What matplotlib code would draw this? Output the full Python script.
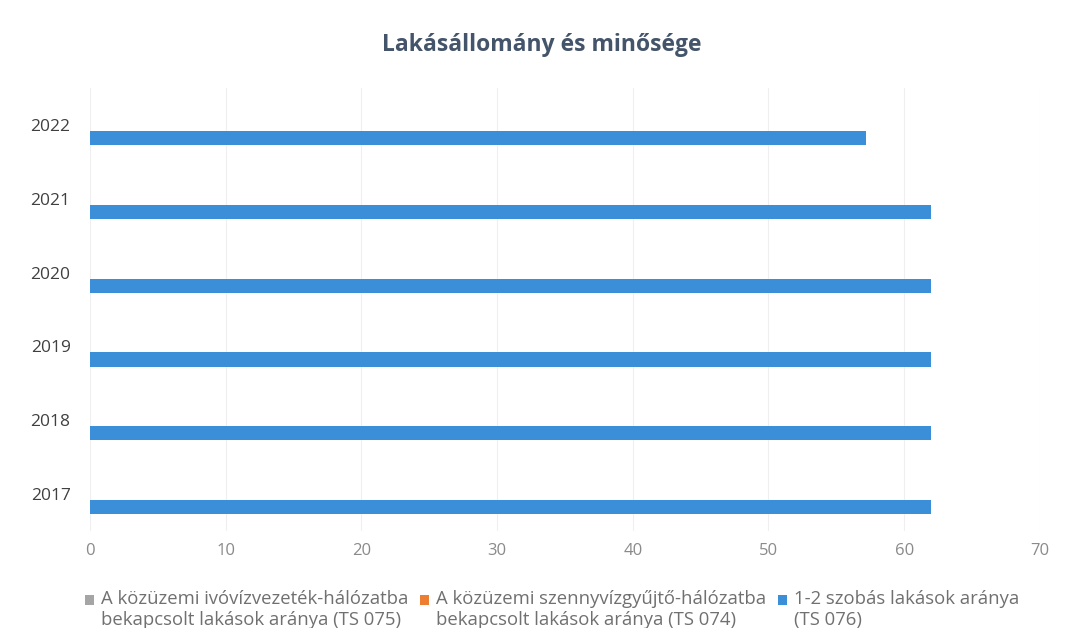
import matplotlib
matplotlib.use("Agg")
import matplotlib.pyplot as plt
from matplotlib.patches import Rectangle
from matplotlib.legend_handler import HandlerPatch
from matplotlib.container import BarContainer
import numpy as np

years = ["2017", "2018", "2019", "2020", "2021", "2022"]
ivoviz = [0, 0, 0, 0, 0, 0]
szennyviz = [0, 0, 0, 0, 0, 0]
szobas = [62.0, 62.0, 62.0, 62.0, 62.0, 57.2]
labels = ["A közüzemi ivóvízvezeték-hálózatba\nbekapcsolt lakások aránya (TS 075)",
          "A közüzemi szennyvízgyűjtő-hálózatba\nbekapcsolt lakások aránya (TS 074)",
          "1-2 szobás lakások aránya\n(TS 076)"]
colors = ["#A5A5A5", "#ED7D31", "#3A8FD8"]

plt.rcParams['font.family'] = ['Open Sans', 'DejaVu Sans']
fig = plt.figure(figsize=(10.72, 6.28), dpi=100)
ax = fig.add_axes([0.084, 0.1545, 0.886, 0.7055])

y = np.arange(len(years))
h = 0.19
series = [ivoviz, szennyviz, szobas]
offsets = [h, 0, -0.178]
for vals, off, c, lab in zip(series, offsets, colors, labels):
    ax.barh(y + off, vals, height=h, color=c, label=lab)

ax.set_xlim(0, 70)
ax.set_ylim(-0.5, 5.5)
ax.set_xticks(range(0, 71, 10))
ax.set_yticks(y)
ax.set_yticklabels(years)
ax.tick_params(axis='x', labelsize=12, length=0, pad=9)
ax.tick_params(axis='y', labelsize=12.5, length=0, pad=14)
for lab in ax.get_xticklabels():
    lab.set_color('#8a8a8a')
for lab in ax.get_yticklabels():
    lab.set_color('#404040')
ax.grid(axis='x', color='#efefef', linewidth=0.8)
ax.set_axisbelow(True)
for s in ax.spines.values():
    s.set_visible(False)

fig.text(0.505, 0.928, "Lakásállomány és minősége", ha='center', va='center',
         fontsize=16.5, fontweight='bold', color='#44546A')

def upper_patch(legend, orig_handle, xdescent, ydescent, width, height, fontsize):
    return Rectangle((-xdescent, -ydescent + 0.55 * fontsize), width, height)

def first_child(legend_handle, orig_handle):
    legend_handle.update_from(orig_handle.patches[0])

leg = fig.legend(loc='lower center', bbox_to_anchor=(0.515, -0.028), ncol=3, frameon=False,
                 fontsize=13.3, handlelength=0.5, handleheight=0.5, handletextpad=0.4,
                 columnspacing=0.6, labelcolor='#707070',
                 handler_map={BarContainer: HandlerPatch(patch_func=upper_patch,
                                                         update_func=first_child)})

fig.savefig("out.png", dpi=100, facecolor='white')
